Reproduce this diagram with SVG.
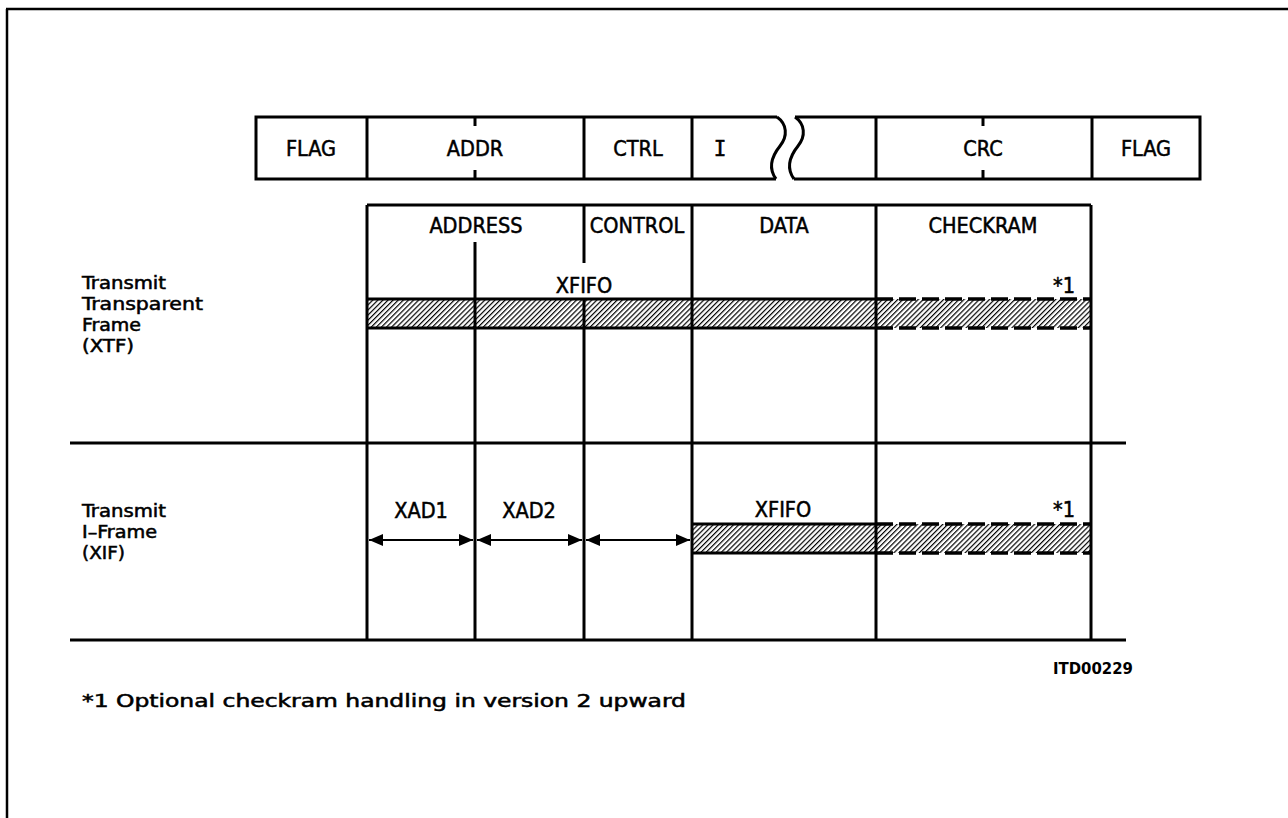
<svg xmlns="http://www.w3.org/2000/svg" width="1288" height="818" viewBox="0 0 1288 818">
<defs>
<style>
.ln{stroke:#000;stroke-width:3;fill:none}
.bd{stroke:#000;stroke-width:2.5;fill:none}
.ds{stroke:#000;stroke-width:3.5;fill:none;stroke-dasharray:17 6}
.t{font-family:"DejaVu Sans Condensed","DejaVu Sans","Liberation Sans",sans-serif;font-size:21.5px;fill:#000;stroke:#000;stroke-width:0.5}
.lb{font-family:"DejaVu Sans Condensed","DejaVu Sans","Liberation Sans",sans-serif;font-size:18px;fill:#000;stroke:#000;stroke-width:0.5}
.c{text-anchor:middle}
.r{text-anchor:end}
.sm{font-family:"DejaVu Sans Condensed","DejaVu Sans","Liberation Sans",sans-serif;font-size:15px;font-weight:bold;fill:#000}
</style>
<pattern id="hatch" patternUnits="userSpaceOnUse" width="3.6" height="10" patternTransform="rotate(45)">
<line x1="0.6" y1="0" x2="0.6" y2="10" stroke="#000" stroke-width="1.2"/>
</pattern>
<marker id="ah" viewBox="0 0 14 12" refX="14" refY="6" markerWidth="14" markerHeight="12" markerUnits="userSpaceOnUse" orient="auto-start-reverse">
<path d="M0,0 L14,6 L0,12 Z" fill="#000"/>
</marker>
</defs>
<rect width="1288" height="818" fill="#fff"/>
<g id="border">
<line class="bd" x1="6" y1="9" x2="1288" y2="9"/>
<line class="bd" x1="7" y1="9" x2="7" y2="818"/>
</g>
<g id="frame-format">
<path class="ln" d="M777,117 L256,117 L256,179 L776,179"/>
<path class="ln" d="M795,117 L1200,117 L1200,179 L794,179"/>
<path class="ln" d="M777,117 C787,124 788,136 780,146 C772,156 768,168 776,179"/>
<path class="ln" d="M795,117 C805,124 806,136 798,146 C790,156 786,168 794,179"/>
<line class="ln" x1="367" y1="117" x2="367" y2="179"/>
<line class="ln" x1="584" y1="117" x2="584" y2="179"/>
<line class="ln" x1="692" y1="117" x2="692" y2="179"/>
<line class="ln" x1="876" y1="117" x2="876" y2="179"/>
<line class="ln" x1="1092" y1="117" x2="1092" y2="179"/>
<line class="ln" x1="475" y1="117" x2="475" y2="126"/>
<line class="ln" x1="475" y1="170" x2="475" y2="179"/>
<line class="ln" x1="983" y1="117" x2="983" y2="126"/>
<line class="ln" x1="983" y1="170" x2="983" y2="179"/>
<text class="t c" x="311" y="156">FLAG</text>
<text class="t c" x="475" y="156">ADDR</text>
<text class="t c" x="638" y="156">CTRL</text>
<text x="720" y="156" text-anchor="middle" font-family="DejaVu Sans Mono,Liberation Mono,monospace" font-size="21" stroke="#000" stroke-width="0.5">I</text>
<text class="t c" x="983" y="156">CRC</text>
<text class="t c" x="1146" y="156">FLAG</text>
</g>
<g id="bars">
<rect x="367" y="299" width="724" height="29" fill="url(#hatch)"/>
<rect x="692" y="524" width="399" height="29" fill="url(#hatch)"/>
<line class="ln" x1="367" y1="299" x2="876" y2="299" stroke-width="3.5"/>
<line class="ln" x1="367" y1="328" x2="876" y2="328" stroke-width="3.5"/>
<line class="ds" x1="876" y1="299" x2="1091" y2="299"/>
<line class="ds" x1="876" y1="328" x2="1091" y2="328"/>
<line class="ln" x1="692" y1="524" x2="876" y2="524" stroke-width="3.5"/>
<line class="ln" x1="692" y1="553" x2="876" y2="553" stroke-width="3.5"/>
<line class="ds" x1="876" y1="524" x2="1091" y2="524"/>
<line class="ds" x1="876" y1="553" x2="1091" y2="553"/>
</g>
<g id="grid">
<line class="ln" x1="367" y1="205" x2="1091" y2="205"/>
<line class="ln" x1="367" y1="205" x2="367" y2="641"/>
<line class="ln" x1="475" y1="242" x2="475" y2="641"/>
<line class="ln" x1="584" y1="205" x2="584" y2="263"/>
<line class="ln" x1="584" y1="298" x2="584" y2="641"/>
<line class="ln" x1="692" y1="205" x2="692" y2="641"/>
<line class="ln" x1="876" y1="205" x2="876" y2="641"/>
<line class="ln" x1="1091" y1="205" x2="1091" y2="641"/>
<line class="ln" x1="70" y1="443" x2="1126" y2="443"/>
<line class="ln" x1="70" y1="640" x2="1126" y2="640"/>
</g>
<g id="connectors">
<line x1="369" y1="540" x2="473" y2="540" stroke="#000" stroke-width="2" marker-start="url(#ah)" marker-end="url(#ah)"/>
<line x1="477" y1="540" x2="582" y2="540" stroke="#000" stroke-width="2" marker-start="url(#ah)" marker-end="url(#ah)"/>
<line x1="586" y1="540" x2="690" y2="540" stroke="#000" stroke-width="2" marker-start="url(#ah)" marker-end="url(#ah)"/>
</g>
<g id="labels">
<text class="t c" x="476" y="233">ADDRESS</text>
<text class="t c" x="637" y="233">CONTROL</text>
<text class="t c" x="784" y="233">DATA</text>
<text class="t c" x="983" y="233">CHECKRAM</text>
<text class="t c" x="584" y="293">XFIFO</text>
<text class="t r" x="1075" y="293">*1</text>
<text class="t c" x="421" y="518">XAD1</text>
<text class="t c" x="529" y="518">XAD2</text>
<text class="t c" x="783" y="517">XFIFO</text>
<text class="t r" x="1075" y="517">*1</text>
<text class="lb" x="82" y="289" textLength="84" lengthAdjust="spacingAndGlyphs">Transmit</text>
<text class="lb" x="82" y="310" textLength="121" lengthAdjust="spacingAndGlyphs">Transparent</text>
<text class="lb" x="82" y="331" textLength="59" lengthAdjust="spacingAndGlyphs">Frame</text>
<text class="lb" x="82" y="352" textLength="52" lengthAdjust="spacingAndGlyphs">(XTF)</text>
<text class="lb" x="82" y="517" textLength="84" lengthAdjust="spacingAndGlyphs">Transmit</text>
<text class="lb" x="82" y="538" textLength="75" lengthAdjust="spacingAndGlyphs">I–Frame</text>
<text class="lb" x="82" y="559" textLength="43" lengthAdjust="spacingAndGlyphs">(XIF)</text>
<text class="sm r" x="1133" y="674" textLength="80" lengthAdjust="spacingAndGlyphs">ITD00229</text>
<text class="lb" x="82" y="707" textLength="604" lengthAdjust="spacingAndGlyphs">*1 Optional checkram handling in version 2 upward</text>
</g>
</svg>
